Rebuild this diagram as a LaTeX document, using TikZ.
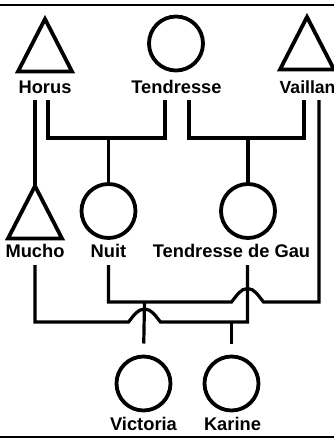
\documentclass[tikz,border=0pt]{standalone}
\usepackage{fontspec}
\setmainfont{Liberation Sans}
\begin{document}
\begin{tikzpicture}[x=1pt,y=-1pt,
  female/.style={circle, draw, line width=3.8pt, minimum size=54pt, inner sep=0pt, outer sep=0pt},
  male/.style={draw, line width=3.8pt, line join=miter},
  tag/.style={font=\bfseries\fontsize{18.3}{20}\selectfont, inner sep=0pt, anchor=base},
  link/.style={line width=3.2pt, line join=miter},
  rule/.style={line width=1.3pt},
  pics/maleshape/.style={code={\draw[male] (0,0) -- (27,52.5) -- (-27,52.5) -- cycle;}}]
\useasboundingbox (0,0) rectangle (334,439);
\clip (0,0) rectangle (334,439);

% frame rules
\draw[rule] (0,5) -- (334,5);
\draw[rule] (0,437) -- (334,437);

% first generation
\pic at (45,19) {maleshape};
\coordinate (horus) at (45,19);
\node[female] (tendresse) at (176,43.5) {};
\pic at (307,17) {maleshape};
\coordinate (vaillant) at (307,17);
\node[tag] (horusTag) at (45,93) {Horus};
\node[tag] (tendresseTag) at (176.5,93) {Tendresse};
\node[tag, anchor=base west, font=\bfseries\fontsize{17.6}{20}\selectfont] (vaillantTag) at (279.5,93) {Vaillan};

% second generation
\pic at (35,186) {maleshape};
\coordinate (mucho) at (35,186);
\node[female] (nuit) at (108.5,211) {};
\node[female] (tdg) at (248,211) {};
\node[tag] (muchoTag) at (35,257) {Mucho};
\node[tag] (nuitTag) at (108.5,257) {Nuit};
\node[tag] (tdgTag) at (231.5,257) {Tendresse de Gau};

% third generation
\node[female] (victoria) at (143.5,383.5) {};
\node[female] (karine) at (231.5,383.5) {};
\node[tag] (victoriaTag) at (143.5,430) {Victoria};
\node[tag] (karineTag) at (232.5,430) {Karine};

% line ends below the names
\coordinate (horusL) at (35,100);
\coordinate (horusR) at (48,100);
\coordinate (tendL) at (165,100);
\coordinate (tendR) at (189,100);
\coordinate (vailL) at (304,100);
\coordinate (vailR) at (319,100);
\coordinate (muchoB) at (35,265);
\coordinate (nuitB) at (108.5,265);
\coordinate (tdgB) at (247.5,265);

% sibship points
\coordinate (u1) at (108.5,138);
\coordinate (u2) at (248,138);
\coordinate (u3) at (144.5,302);
\coordinate (u4) at (231.5,322);

% Horus -> Mucho
\draw[link] (horusL) -- (mucho);

% Horus + Tendresse
\draw[link] (horusR) -- ++(0,38) -| (tendL);
\draw[link] (u1) -- (nuit.north);

% Tendresse + Vaillant
\draw[link] (tendR) -- ++(0,38) -| (vailL);
\draw[link] (u2) -- (tdg.north);

% Vaillant + Nuit, hopping over the Tendresse de Gau line
\draw[link] (vailR) -- (319,302) -- (263.5,302)
  .. controls (258.5,296) and (254.5,288.5) .. (247.5,288.5)
  .. controls (240.5,288.5) and (236.5,296) .. (231.5,302)
  -- (108.5,302) -- (nuitB);
\draw[link, shorten >=13pt] (u3) -- (victoria.north);

% Mucho + Tendresse de Gau, hopping over the Victoria line
\draw[link] (muchoB) -- (35,322) -- (128.5,322)
  .. controls (133.5,316) and (137.5,309) .. (144.5,309)
  .. controls (151.5,309) and (155.5,316) .. (160.5,322)
  -- (247.5,322) -- (tdgB);
\draw[link, shorten >=13pt] (u4) -- (karine.north);
\end{tikzpicture}
\end{document}
